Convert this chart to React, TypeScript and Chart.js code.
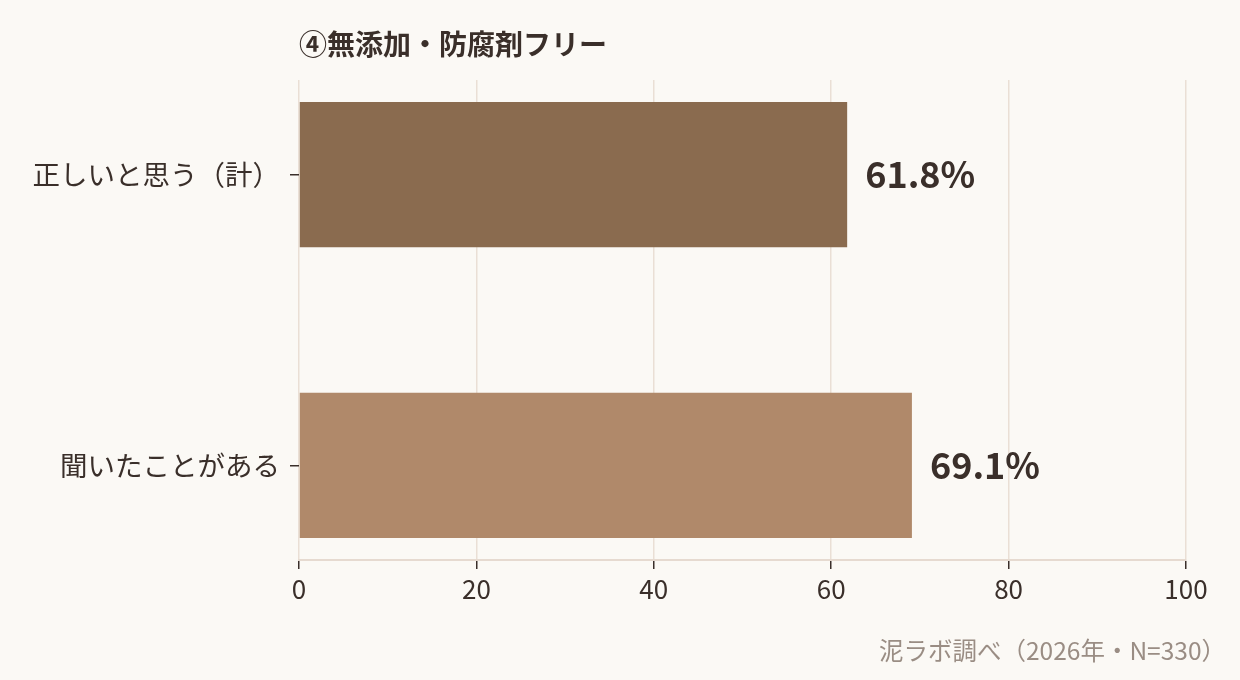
import { useEffect, useRef } from 'react';
import { Chart, registerables, Plugin } from 'chart.js';

Chart.register(...registerables);

const CATEGORIES = ['正しいと思う（計）', '聞いたことがある'];
const VALUES = [61.8, 69.1];
const BAR_COLORS = ['#8a6b4f', '#b0896a'];
const X_TICKS = [0, 20, 40, 60, 80, 100];
const TITLE = '④無添加・防腐剤フリー';
const SOURCE = '泥ラボ調べ（2026年・N=330）';

const FONT = '"Noto Sans CJK JP", "Noto Sans", sans-serif';
const INK = '#3a2f2a';
const BG = '#fbf9f5';

// draws background, title, source note and value labels
const decorations: Plugin<'bar'> = {
    id: 'decorations',
    beforeDraw(chart) {
        const { ctx, width, height } = chart;
        ctx.save();
        ctx.fillStyle = BG;
        ctx.fillRect(0, 0, width, height);
        ctx.restore();
    },
    afterDraw(chart) {
        const { ctx, chartArea } = chart;
        ctx.save();
        ctx.fillStyle = INK;
        ctx.font = `bold 28px ${FONT}`;
        ctx.textAlign = 'left';
        ctx.textBaseline = 'middle';
        ctx.fillText(TITLE, chartArea.left, 44);

        ctx.fillStyle = '#9a8d84';
        ctx.font = `24.5px ${FONT}`;
        ctx.textAlign = 'right';
        ctx.fillText(SOURCE, 1226, 651);

        const meta = chart.getDatasetMeta(0);
        ctx.fillStyle = INK;
        ctx.font = `bold 36px ${FONT}`;
        ctx.textAlign = 'left';
        meta.data.forEach((bar, i) => {
            ctx.fillText(`${VALUES[i].toFixed(1)}%`, bar.x + 18, bar.y);
        });
        ctx.restore();
    },
};

const App: React.FC = () => {
    const chartRef = useRef<HTMLCanvasElement | null>(null);

    useEffect(() => {
        document.body.style.margin = '0';
        const ctx = chartRef.current?.getContext('2d');
        if (!ctx) return;

        const chart = new Chart(ctx, {
            type: 'bar',
            data: {
                datasets: [
                    {
                        data: VALUES.map((v, i) => ({ x: v, y: i })),
                        backgroundColor: BAR_COLORS,
                        barPercentage: 0.5,
                        categoryPercentage: 1,
                    },
                ],
            },
            options: {
                indexAxis: 'y',
                animation: false,
                responsive: false,
                devicePixelRatio: 1,
                layout: { padding: { left: 0, right: 54, top: 80, bottom: 70 } },
                plugins: {
                    legend: { display: false },
                    tooltip: { enabled: false },
                },
                scales: {
                    x: {
                        type: 'linear',
                        min: 0,
                        max: 100,
                        afterBuildTicks(scale) {
                            scale.ticks = X_TICKS.map((value) => ({ value }));
                        },
                        ticks: {
                            color: INK,
                            font: { family: FONT, size: 26 },
                            padding: 5,
                        },
                        grid: {
                            color: '#eadfd5',
                            lineWidth: 1.5,
                            tickColor: INK,
                            tickLength: 9,
                        },
                        border: { color: '#e6dad0', width: 2 },
                        afterFit(scale) {
                            scale.height = 50;
                        },
                    },
                    y: {
                        type: 'linear',
                        reverse: true,
                        offset: false,
                        min: -0.326,
                        max: 1.326,
                        afterBuildTicks(scale) {
                            scale.ticks = CATEGORIES.map((_, i) => ({ value: i }));
                        },
                        ticks: {
                            color: INK,
                            font: { family: FONT, size: 27.5 },
                            padding: 10,
                            callback: (value) => CATEGORIES[Number(value)] ?? '',
                        },
                        grid: {
                            offset: false,
                            drawOnChartArea: false,
                            tickColor: INK,
                            tickLength: 9,
                            lineWidth: 1.5,
                        },
                        border: { display: false },
                        afterFit(scale) {
                            scale.width = 299;
                        },
                    },
                },
            },
            plugins: [decorations],
        });

        return () => {
            chart.destroy();
        };
    }, []);

    return <canvas ref={chartRef} width="1240" height="680" style={{ display: 'block' }}></canvas>;
};

export default App;
